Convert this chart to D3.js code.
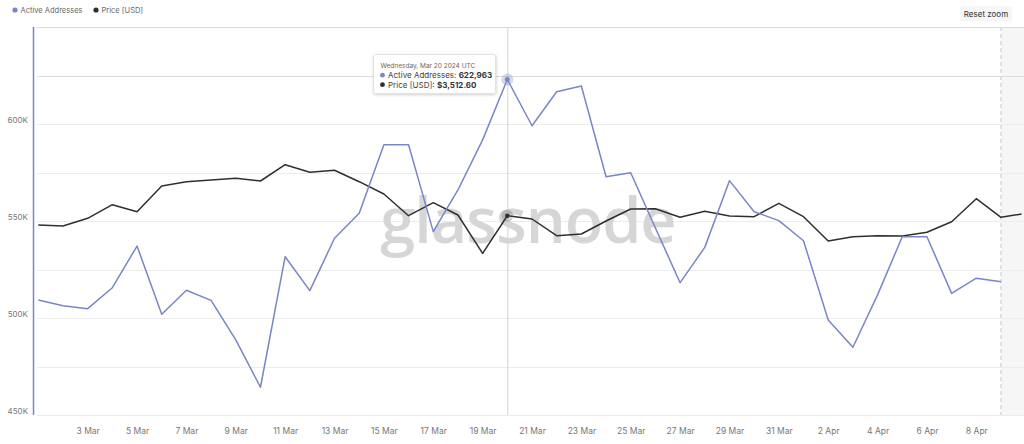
<!DOCTYPE html>
<html>
<head>
<meta charset="utf-8">
<script src="https://cdn.jsdelivr.net/npm/d3@7"></script>
<style>
  html, body { margin: 0; padding: 0; background: #fff; }
  svg { display: block; font-family: Inter, "Open Sans", sans-serif; }
</style>
</head>
<body>
<svg id="chart" width="1024" height="444"></svg>
<script>
// ---- data ----
const dates = [
  "2024-03-01","2024-03-02","2024-03-03","2024-03-04","2024-03-05","2024-03-06","2024-03-07","2024-03-08",
  "2024-03-09","2024-03-10","2024-03-11","2024-03-12","2024-03-13","2024-03-14","2024-03-15","2024-03-16",
  "2024-03-17","2024-03-18","2024-03-19","2024-03-20","2024-03-21","2024-03-22","2024-03-23","2024-03-24",
  "2024-03-25","2024-03-26","2024-03-27","2024-03-28","2024-03-29","2024-03-30","2024-03-31","2024-04-01",
  "2024-04-02","2024-04-03","2024-04-04","2024-04-05","2024-04-06","2024-04-07","2024-04-08","2024-04-09",
  "2024-04-09T20:00:00Z"
];
const activeAddresses = [
  509300, 506300, 504800, 515600, 537100, 501900, 514300, 509100,
  488700, 464300, 531600, 514100, 541100, 554000, 589300, 589300,
  544500, 566000, 591800, 622963, 599100, 616600, 619600, 572800,
  574900, 546400, 518200, 536400, 570800, 554800, 550200, 539800,
  499000, 484900, 511900, 541900, 541900, 512700, 520500, 518700
];
const priceUSD = [
  3420, 3410, 3487, 3623, 3553, 3810, 3853, 3870,
  3887, 3860, 4023, 3947, 3967, 3853, 3730, 3513,
  3643, 3520, 3137, 3512.6, 3480, 3313, 3330, 3460,
  3580, 3583, 3497, 3557, 3510, 3503, 3637, 3503,
  3260, 3303, 3313, 3310, 3347, 3453, 3683, 3497,
  3530
];
const yTickValues = [450000, 500000, 550000, 600000];
const gridValues = [450000, 475000, 500000, 525000, 550000, 575000, 600000, 625000, 650000];
const seriesNames = ["Active Addresses", "Price [USD]"];
const seriesColors = ["#7986c6", "#2f2f2f"];
const hoverIndex = 19; // Mar 20
const tooltipDate = "Wednesday, Mar 20 2024 UTC";

// ---- scales ----
const parse = s => new Date(s.length === 10 ? s + "T00:00:00Z" : s);
const D = dates.map(parse);
const x = d3.scaleUtc()
  .domain([parse("2024-03-01"), parse("2024-04-09")])
  .range([38.3, 1001]);
const y = d3.scaleLinear().domain([450000, 650000]).range([415, 27]);
const yP = d3.scaleLinear().domain([1520, 5400]).range([415, 27]);

const svg = d3.select("#chart");

// incomplete-data shading
const lastFull = x(parse("2024-04-09"));
svg.append("rect").attr("x", lastFull).attr("y", 27).attr("width", 1024 - lastFull).attr("height", 388)
  .attr("fill", "#f6f6f6");

// gridlines
svg.append("g").selectAll("line").data(gridValues).join("line")
  .attr("x1", 37).attr("x2", 1024)
  .attr("y1", d => Math.round(y(d)) + 0.5).attr("y2", d => Math.round(y(d)) + 0.5)
  .attr("stroke", d => (d === 625000 || d === 650000) ? "#dcdcdc" : "#ececec")
  .attr("stroke-width", 1);

// dashed incomplete line
svg.append("line").attr("x1", lastFull).attr("x2", lastFull).attr("y1", 27).attr("y2", 415)
  .attr("stroke", "#d8d8d8").attr("stroke-dasharray", "4,3").attr("stroke-width", 1.5);

// watermark
svg.append("text").attr("x", 528).attr("y", 243).attr("text-anchor", "middle")
  .attr("font-family", "'Open Sans', sans-serif").attr("font-weight", 600).attr("font-size", 63)
  .attr("fill", "#d6d6d6").attr("letter-spacing", -1).text("glassnode");

// left axis line
svg.append("line").attr("x1", 33.5).attr("x2", 33.5).attr("y1", 27).attr("y2", 415)
  .attr("stroke", "#7986c6").attr("stroke-width", 1.5);

// y axis labels
const yAxis = d3.axisLeft(y).tickValues(yTickValues).tickSize(0).tickPadding(0)
  .tickFormat(d => d3.format("~s")(d).replace("k", "K"));
const ya = svg.append("g").attr("transform", "translate(28,-4)").call(yAxis);
ya.select(".domain").remove();
ya.selectAll("text").attr("font-size", 8).attr("fill", "#777").attr("font-family", "Inter, sans-serif");

// x axis labels
const xTicks = d3.utcDay.range(parse("2024-03-03"), parse("2024-04-09"), 2);
const xAxis = d3.axisBottom(x).tickValues(xTicks).tickSize(0).tickPadding(0)
  .tickFormat(d3.utcFormat("%-d %b"));
const xa = svg.append("g").attr("transform", "translate(0,428)").call(xAxis);
xa.select(".domain").remove();
xa.selectAll("text").attr("font-size", 8.5).attr("fill", "#777").attr("font-family", "Inter, sans-serif");

// crosshair
svg.append("line").attr("x1", x(D[hoverIndex]) + 0.5).attr("x2", x(D[hoverIndex]) + 0.5)
  .attr("y1", 27).attr("y2", 415).attr("stroke", "#d4d4d4").attr("stroke-width", 1);

// lines
const lineA = d3.line().x((d, i) => x(D[i])).y(d => y(d));
const lineP = d3.line().x((d, i) => x(D[i])).y(d => yP(d));
svg.append("path").datum(priceUSD).attr("d", lineP).attr("fill", "none")
  .attr("stroke", seriesColors[1]).attr("stroke-width", 1.5).attr("stroke-linejoin", "round");
svg.append("path").datum(activeAddresses).attr("d", lineA).attr("fill", "none")
  .attr("stroke", seriesColors[0]).attr("stroke-width", 1.5).attr("stroke-linejoin", "round");

// hover markers
const hx = x(D[hoverIndex]);
svg.append("circle").attr("cx", hx).attr("cy", y(activeAddresses[hoverIndex])).attr("r", 6)
  .attr("fill", seriesColors[0]).attr("opacity", 0.3);
svg.append("circle").attr("cx", hx).attr("cy", y(activeAddresses[hoverIndex])).attr("r", 2.5)
  .attr("fill", seriesColors[0]);
svg.append("circle").attr("cx", hx).attr("cy", yP(priceUSD[hoverIndex])).attr("r", 6)
  .attr("fill", "#555").attr("opacity", 0.25);
svg.append("circle").attr("cx", hx).attr("cy", yP(priceUSD[hoverIndex])).attr("r", 2.2)
  .attr("fill", seriesColors[1]);

// tooltip
const defs = svg.append("defs");
const f = defs.append("filter").attr("id", "sh").attr("x", "-20%").attr("y", "-30%").attr("width", "140%").attr("height", "160%");
f.append("feDropShadow").attr("dx", 0.5).attr("dy", 1).attr("stdDeviation", 1.5).attr("flood-color", "#000").attr("flood-opacity", 0.18);
const tt = svg.append("g").attr("transform", "translate(373.5,54.5)");
tt.append("rect").attr("width", 122).attr("height", 39).attr("rx", 2)
  .attr("fill", "#fff").attr("stroke", "#e2e2e2").attr("filter", "url(#sh)");
tt.append("text").attr("x", 7).attr("y", 13).attr("font-size", 6.5).attr("fill", "#666").text(tooltipDate);
const fmtA = d3.format(",");
const fmtP = v => "$" + d3.format(",.2f")(v);
const rows = [
  [seriesNames[0], fmtA(activeAddresses[hoverIndex]), seriesColors[0]],
  [seriesNames[1], fmtP(priceUSD[hoverIndex]), seriesColors[1]]
];
rows.forEach((r, i) => {
  const yy = 23.5 + i * 9.5;
  tt.append("circle").attr("cx", 9).attr("cy", yy - 2.8).attr("r", 2.4).attr("fill", r[2]);
  const t = tt.append("text").attr("x", 14.5).attr("y", yy).attr("font-size", 8).attr("fill", "#444");
  t.append("tspan").text(r[0] + ": ");
  t.append("tspan").attr("font-weight", 700).attr("fill", "#333").text(r[1]);
});

// legend
const lg = svg.append("g").attr("transform", "translate(15,10)");
const lx = [0, 81];
seriesNames.forEach((n, i) => {
  lg.append("circle").attr("cx", lx[i]).attr("cy", 0).attr("r", 2.6).attr("fill", seriesColors[i]);
  lg.append("text").attr("x", lx[i] + 5.5).attr("y", 3).attr("font-size", 7.5).attr("fill", "#666").text(n);
});

// reset zoom button
const rb = svg.append("g").attr("transform", "translate(960,6)");
rb.append("rect").attr("width", 52).attr("height", 15).attr("rx", 2).attr("fill", "#f6f6f6");
rb.append("text").attr("x", 26).attr("y", 10.5).attr("text-anchor", "middle").attr("font-size", 8)
  .attr("fill", "#333").text("Reset zoom");
</script>
</body>
</html>
